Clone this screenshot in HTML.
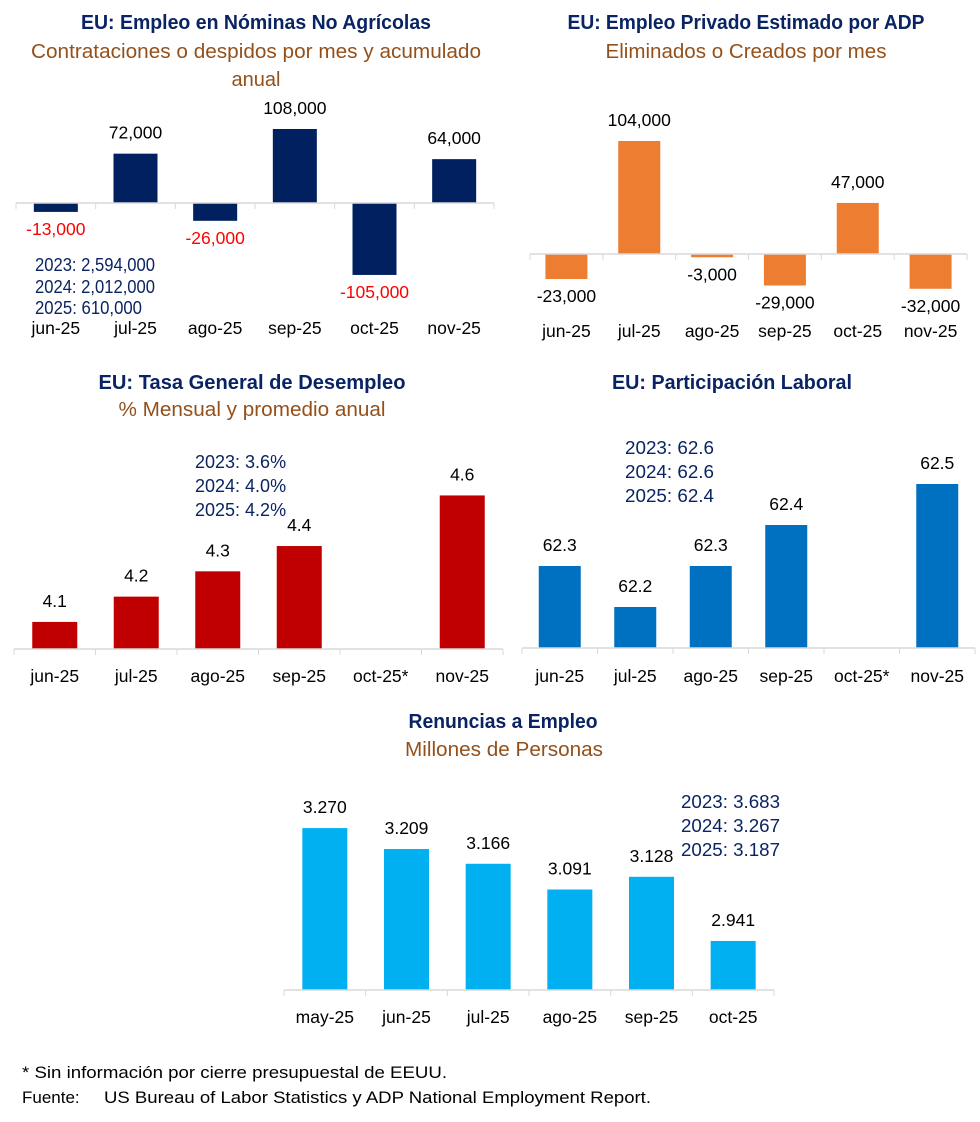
<!DOCTYPE html>
<html><head><meta charset="utf-8"><style>
html,body{margin:0;padding:0;background:#fff;}
svg{display:block;font-family:"Liberation Sans",sans-serif;}
.t{font-family:"Liberation Sans",sans-serif;font-weight:bold;fill:#0a2463;font-size:20px;}
.s{font-family:"Liberation Sans",sans-serif;fill:#94501a;font-size:20px;}
.b{font-family:"Liberation Sans",sans-serif;fill:#0a2463;font-size:18px;}
.lbl{font-size:17.5px;fill:#000;}
.cat{font-size:17.5px;fill:#000;}
.foot{font-size:17px;fill:#000;}
</style></head><body>
<svg id="root" width="980" height="1122" viewBox="0 0 980 1122">
<g>
<text class="t" x="256" y="29" text-anchor="middle" textLength="350" lengthAdjust="spacingAndGlyphs">EU: Empleo en Nóminas No Agrícolas</text>
<text class="s" x="256" y="58" text-anchor="middle" textLength="450" lengthAdjust="spacingAndGlyphs">Contrataciones o despidos por mes y acumulado</text>
<text class="s" x="256" y="86" text-anchor="middle" textLength="49" lengthAdjust="spacingAndGlyphs">anual</text>
<text class="t" x="746" y="29" text-anchor="middle" textLength="357" lengthAdjust="spacingAndGlyphs">EU: Empleo Privado Estimado por ADP</text>
<text class="s" x="746" y="58" text-anchor="middle" textLength="281" lengthAdjust="spacingAndGlyphs">Eliminados o Creados por mes</text>
<text class="t" x="252" y="389" text-anchor="middle" textLength="307" lengthAdjust="spacingAndGlyphs">EU: Tasa General de Desempleo</text>
<text class="s" x="252" y="416" text-anchor="middle" textLength="267" lengthAdjust="spacingAndGlyphs">% Mensual y promedio anual</text>
<text class="t" x="732" y="389" text-anchor="middle" textLength="240" lengthAdjust="spacingAndGlyphs">EU: Participación Laboral</text>
<text class="t" x="503" y="728" text-anchor="middle" textLength="189" lengthAdjust="spacingAndGlyphs">Renuncias a Empleo</text>
<text class="s" x="504" y="756" text-anchor="middle" textLength="198" lengthAdjust="spacingAndGlyphs">Millones de Personas</text>
</g>
<g>
<text class="b" x="35" y="271" textLength="120" lengthAdjust="spacingAndGlyphs">2023: 2,594,000</text>
<text class="b" x="35" y="293" textLength="120" lengthAdjust="spacingAndGlyphs">2024: 2,012,000</text>
<text class="b" x="35" y="314" textLength="107" lengthAdjust="spacingAndGlyphs">2025: 610,000</text>
<text class="b" x="195" y="468">2023: 3.6%</text>
<text class="b" x="195" y="492">2024: 4.0%</text>
<text class="b" x="195" y="516">2025: 4.2%</text>
<text class="b" x="625" y="454" textLength="89" lengthAdjust="spacingAndGlyphs">2023: 62.6</text>
<text class="b" x="625" y="478" textLength="89" lengthAdjust="spacingAndGlyphs">2024: 62.6</text>
<text class="b" x="625" y="502" textLength="89" lengthAdjust="spacingAndGlyphs">2025: 62.4</text>
<text class="b" x="681" y="808" textLength="99" lengthAdjust="spacingAndGlyphs">2023: 3.683</text>
<text class="b" x="681" y="832" textLength="99" lengthAdjust="spacingAndGlyphs">2024: 3.267</text>
<text class="b" x="681" y="856" textLength="99" lengthAdjust="spacingAndGlyphs">2025: 3.187</text>
</g>
<text class="foot" x="22" y="1078" textLength="425" lengthAdjust="spacingAndGlyphs">* Sin información por cierre presupuestal de EEUU.</text>
<text class="foot" x="22" y="1103">Fuente:</text>
<text class="foot" x="104" y="1103" textLength="547" lengthAdjust="spacingAndGlyphs">US Bureau of Labor Statistics y ADP National Employment Report.</text>
</svg>
<script>
const nfpCats = ["jun-25","jul-25","ago-25","sep-25","oct-25","nov-25"];
const nfpVals = [-13000,72000,-26000,108000,-105000,64000];
const adpCats = ["jun-25","jul-25","ago-25","sep-25","oct-25","nov-25"];
const adpVals = [-23000,104000,-3000,-29000,47000,-32000];
const unempCats = ["jun-25","jul-25","ago-25","sep-25","oct-25*","nov-25"];
const unempVals = [4.1,4.2,4.3,4.4,null,4.6];
const partCats = ["jun-25","jul-25","ago-25","sep-25","oct-25*","nov-25"];
const partVals = [62.3,62.2,62.3,62.4,null,62.5];
const quitCats = ["may-25","jun-25","jul-25","ago-25","sep-25","oct-25"];
const quitVals = [3.270,3.209,3.166,3.091,3.128,2.941];

const NS="http://www.w3.org/2000/svg";
const root=document.getElementById('root');
function mk(tag,attrs,parent){const e=document.createElementNS(NS,tag);for(const k in attrs)e.setAttribute(k,attrs[k]);parent.appendChild(e);return e;}
const fmtK=v=>v.toLocaleString('en-US');
function chart(name,cats,vals,o){
  const g=mk('g',{},root);
  
  
  const n=cats.length, step=(o.x1-o.x0)/n;
  const xc=i=>o.x0+step*(i+0.5);
  const y=v=>o.axisY-(v-o.min)*o.k;
  cats.forEach((c,i)=>{
    const v=vals[i];
    if(v!==null){
      const top=Math.min(y(v),o.axisY), h=Math.abs(y(v)-o.axisY);
      const r=mk('rect',{x:xc(i)-o.bw/2,y:top,width:o.bw,height:h,fill:o.color},g);
      
      
      const neg=v<o.min;
      const ly=neg? y(v)+23 : y(v)-15;
      const t=mk('text',{x:xc(i),y:ly,'text-anchor':'middle',class:'lbl'},g);
      if(neg&&o.negRed) t.style.fill='#ff0000';
      t.textContent=o.fmt(v);
      
      
    }
    const ct=mk('text',{x:xc(i),y:o.catY,'text-anchor':'middle',class:'cat'},g);
    ct.textContent=c;
    
    
  });
  const ax=mk('line',{x1:o.x0,x2:o.x1,y1:o.axisY,y2:o.axisY,stroke:'#d9d9d9','stroke-width':1.5},g);
  
  
  for(let i=0;i<=n;i++){
    const tk=mk('line',{x1:o.x0+step*i,x2:o.x0+step*i,y1:o.axisY,y2:o.axisY+6,stroke:'#d9d9d9','stroke-width':1},g);
    
    
  }
}
chart('nfp',nfpCats,nfpVals,{x0:16,x1:494,axisY:203,min:0,k:74/108000,bw:44,color:'#002060',negRed:true,catY:334,fmt:fmtK});
chart('adp',adpCats,adpVals,{x0:530,x1:967,axisY:254,min:0,k:113/104000,bw:42,color:'#ed7d31',negRed:false,catY:337,fmt:fmtK});
chart('unemployment',unempCats,unempVals,{x0:14,x1:503,axisY:649,min:3.993,k:253,bw:45,color:'#c00000',catY:682,fmt:v=>v.toFixed(1)});
chart('participation',partCats,partVals,{x0:522,x1:975,axisY:648,min:62.1,k:410,bw:42,color:'#0070c0',catY:682,fmt:v=>v.toFixed(1)});
chart('quits',quitCats,quitVals,{x0:284,x1:774,axisY:990,min:2.798,k:343,bw:45,color:'#00b0f0',catY:1023,fmt:v=>v.toFixed(3)});
</script>
</body></html>
